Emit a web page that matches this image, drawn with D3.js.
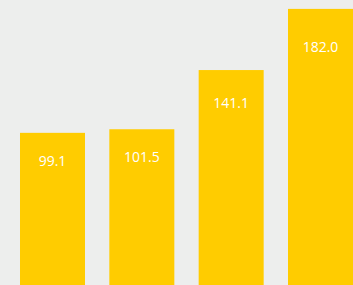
<!DOCTYPE html>
<html>
<head>
<meta charset="utf-8">
<script src="https://cdn.jsdelivr.net/npm/d3@7"></script>
<style>
  html, body { margin: 0; padding: 0; background: #edeeed; overflow: hidden; }
  svg { display: block; }
</style>
</head>
<body>
<div id="chart"></div>
<script>
// data
const categories = ['c1', 'c2', 'c3', 'c4'];
const values = [99.1, 101.5, 141.1, 182.0];
const valueLabels = ['99.1', '101.5', '141.1', '182.0'];

const WIDTH = 353, HEIGHT = 285;

const svg = d3.select('#chart').append('svg')
    .attr('width', WIDTH)
    .attr('height', HEIGHT);

svg.append('rect')
    .attr('width', WIDTH)
    .attr('height', HEIGHT)
    .attr('fill', '#edeeed');

const x = d3.scaleBand()
    .domain(categories)
    .range([20, 353])
    .paddingInner(0.2724)
    .paddingOuter(0);

const y = d3.scaleLinear().domain([0, 182]).range([281, 8.9]);
// labels sit a bit lower on short bars than on tall ones
const yLabel = d3.scaleLinear().domain([0, 182]).range([301.3, 52.3]);

const rows = categories.map((c, i) => ({ cat: c, v: values[i], label: valueLabels[i] }));

svg.selectAll('.bar')
    .data(rows)
    .enter()
    .append('rect')
    .attr('class', 'bar')
    .attr('x', d => x(d.cat))
    .attr('y', d => y(d.v))
    .attr('width', x.bandwidth())
    .attr('height', d => HEIGHT - y(d.v))
    .attr('fill', '#ffcc00');

svg.selectAll('.label')
    .data(rows)
    .enter()
    .append('text')
    .attr('class', 'label')
    .text(d => d.label)
    .attr('x', d => x(d.cat) + x.bandwidth() / 2)
    .attr('y', d => yLabel(d.v))
    .attr('text-anchor', 'middle')
    .attr('font-family', '"Open Sans", sans-serif')
    .attr('font-size', 14)
    .attr('fill', '#ffffff');
</script>
</body>
</html>
